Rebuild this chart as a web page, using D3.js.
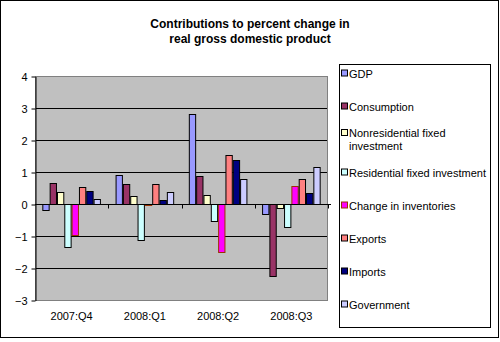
<!DOCTYPE html>
<html><head><meta charset="utf-8">
<script src="https://cdn.jsdelivr.net/npm/d3@7"></script>
<style>body{margin:0;background:#fff}svg{display:block}</style>
</head><body>
<script>
const categories = ["2007:Q4", "2008:Q1", "2008:Q2", "2008:Q3"];
const seriesNames = ["GDP", "Consumption", "Nonresidential fixed investment", "Residential fixed investment", "Change in inventories", "Exports", "Imports", "Government"];
const legendLines = [["GDP"], ["Consumption"], ["Nonresidential fixed", "investment"], ["Residential fixed investment"], ["Change in inventories"], ["Exports"], ["Imports"], ["Government"]];
const gdp = [-0.19, 0.91, 2.81, -0.31];
const consumption = [0.66, 0.62, 0.87, -2.25];
const nonres = [0.38, 0.25, 0.28, -0.12];
const residential = [-1.34, -1.12, -0.53, -0.72];
const inventories = [-0.98, -0.03, -1.50, 0.56];
const exportsV = [0.53, 0.62, 1.53, 0.78];
const imports = [0.41, 0.12, 1.37, 0.34];
const government = [0.16, 0.38, 0.78, 1.16];
const seriesValues = [gdp, consumption, nonres, residential, inventories, exportsV, imports, government];
const colors = ["#9999FF", "#993366", "#FFFFCC", "#CCFFFF", "#FF00FF", "#FF8080", "#000080", "#CCCCFF"];
const strokes = ["#000", "#000", "#000", "#000", "#993300", "#000", "#000", "#000"];
const yTicks = [4, 3, 2, 1, 0, -1, -2, -3];

const W = 500, H = 342;
const svg = d3.select("body").append("svg").attr("width", W).attr("height", H);
svg.append("rect").attr("x", 0.5).attr("y", 0.5).attr("width", 498).attr("height", 337)
  .attr("fill", "#fff").attr("stroke", "#000");

const font = "Arial, 'Liberation Sans', sans-serif";
const title = svg.append("text").attr("x", 250).attr("text-anchor", "middle")
  .attr("font-family", font).attr("font-size", 12).attr("font-weight", "bold");
title.append("tspan").attr("x", 250).attr("y", 28).text("Contributions to percent change in");
title.append("tspan").attr("x", 250).attr("y", 43).text("real gross domestic product");

const L = 35, R = 328, T = 76, B = 300;
const y = d3.scaleLinear().domain([-3, 4]).range([B, T]);
const x0 = d3.scaleBand().domain(categories).range([L, R]).paddingInner(0.2).paddingOuter(0.1);
const x1 = d3.scaleBand().domain(d3.range(seriesNames.length)).range([0, x0.bandwidth()]);

svg.append("rect").attr("x", L).attr("y", T).attr("width", R - L).attr("height", B - T)
  .attr("fill", "#C0C0C0");

// gridlines
svg.append("g").selectAll("line").data(yTicks.filter(d => d !== 4 && d !== -3)).join("line")
  .attr("x1", L).attr("x2", R).attr("y1", d => Math.round(y(d)) + 0.5).attr("y2", d => Math.round(y(d)) + 0.5)
  .attr("stroke", "#000");

svg.append("rect").attr("x", L + 0.5).attr("y", T + 0.5).attr("width", R - L - 1).attr("height", B - T)
  .attr("fill", "none").attr("stroke", "#808080");

// bars
const groups = svg.append("g").selectAll("g").data(categories).join("g")
  .attr("transform", c => `translate(${x0(c)},0)`);
groups.selectAll("rect").data((c, ci) => seriesValues.map((vals, si) => ({si, v: vals[ci]}))).join("rect")
  .attr("x", d => x1(d.si) + 0.5)
  .attr("width", x1.bandwidth() - 1)
  .attr("y", d => Math.round(y(Math.max(0, d.v))) + 0.5)
  .attr("height", d => Math.max(0.5, Math.abs(Math.round(y(d.v)) - Math.round(y(0)))))
  .attr("fill", d => colors[d.si]).attr("stroke", d => strokes[d.si]);

// y axis
const yAxis = svg.append("g").attr("transform", `translate(${L + 0.5},0.5)`)
  .call(d3.axisLeft(y).tickValues(yTicks).tickFormat(d3.format("d")).tickSize(4).tickSizeOuter(0));
yAxis.select(".domain").attr("stroke", "#000");
yAxis.selectAll("text").attr("font-family", font).attr("font-size", 11).attr("fill", "#000").attr("x", -8);

// x axis at zero
const zeroY = Math.round(y(0)) + 0.5;
svg.append("line").attr("x1", L).attr("x2", R + 3).attr("y1", zeroY).attr("y2", zeroY).attr("stroke", "#000");
const bounds = categories.map(c => x0(c) - x0.step() * x0.paddingInner() / 2).slice(1).concat([R]);
svg.append("g").selectAll("line").data(bounds).join("line")
  .attr("x1", d => Math.round(d) + 0.5).attr("x2", d => Math.round(d) + 0.5)
  .attr("y1", zeroY).attr("y2", zeroY + 4).attr("stroke", "#000");

// category labels
svg.append("g").selectAll("text").data(categories).join("text")
  .attr("x", c => x0(c) + x0.bandwidth() / 2).attr("y", 320)
  .attr("text-anchor", "middle").attr("font-family", font).attr("font-size", 11).text(c => c);

// legend
svg.append("rect").attr("x", 339.5).attr("y", 64.5).attr("width", 151).attr("height", 263)
  .attr("fill", "#fff").attr("stroke", "#000");
const itemY = d3.scaleLinear().domain([0, 7]).range([73.5, 304.5]);
const li = svg.append("g").selectAll("g").data(seriesNames).join("g")
  .attr("transform", (d, i) => `translate(0,${itemY(i) + (i === 2 ? -6.5 : 0)})`);
li.append("rect").attr("x", 341.5).attr("y", -3.5).attr("width", 6).attr("height", 6)
  .attr("fill", (d, i) => colors[i]).attr("stroke", (d, i) => i === 4 ? "#993300" : "#000");
li.append("text").attr("font-family", font).attr("font-size", 11)
  .selectAll("tspan").data((d, i) => legendLines[i]).join("tspan")
  .attr("x", 349).attr("y", (d, j) => 4 + j * 13).text(d => d);
</script>
</body></html>
